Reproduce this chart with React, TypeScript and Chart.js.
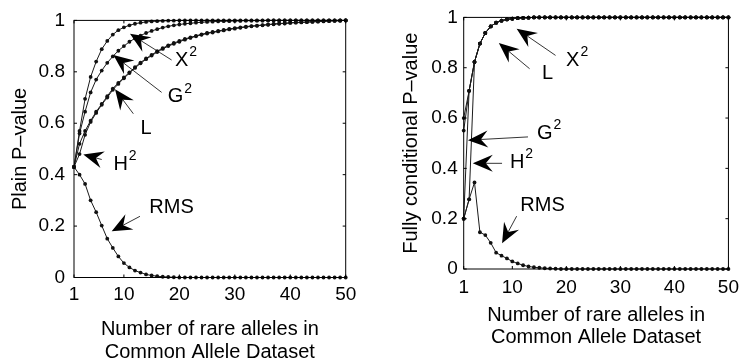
import React, { useEffect, useRef } from 'react';
import { Chart, registerables } from 'chart.js';

Chart.register(...registerables);

// ---------------- data ----------------
const X_VALUES = [
  1, 2, 3, 4, 5, 6, 7, 8, 9, 10, 11, 12, 13, 14, 15, 16, 17, 18, 19, 20, 21, 22, 23, 24, 25,
  26, 27, 28, 29, 30, 31, 32, 33, 34, 35, 36, 37, 38, 39, 40, 41, 42, 43, 44, 45, 46, 47, 48, 49, 50,
];
const X_TICKS = [1, 10, 20, 30, 40, 50];
const Y_TICKS = [0, 0.2, 0.4, 0.6, 0.8, 1];

// Left panel: plain P-value
const PLAIN_X2 = [
  0.43, 0.57, 0.695, 0.78, 0.84, 0.888, 0.92, 0.945, 0.962, 0.973,
  0.981, 0.987, 0.991, 0.994, 0.996, 0.997, 0.998, 0.999, 0.999, 1,
  1, 1, 1, 1, 1, 1, 1, 1, 1, 1,
  1, 1, 1, 1, 1, 1, 1, 1, 1, 1,
  1, 1, 1, 1, 1, 1, 1, 1, 1, 1,
];
const PLAIN_G2 = [
  0.43, 0.56, 0.645, 0.72, 0.77, 0.805, 0.835, 0.86, 0.882, 0.9,
  0.917, 0.93, 0.941, 0.951, 0.959, 0.966, 0.972, 0.977, 0.981, 0.984,
  0.987, 0.989, 0.991, 0.993, 0.994, 0.995, 0.996, 0.997, 0.997, 0.998,
  0.998, 0.999, 0.999, 0.999, 0.999, 1, 1, 1, 1, 1,
  1, 1, 1, 1, 1, 1, 1, 1, 1, 1,
];
const PLAIN_L = [
  0.43, 0.52, 0.57, 0.61, 0.645, 0.675, 0.705, 0.735, 0.757, 0.778,
  0.798, 0.818, 0.836, 0.852, 0.866, 0.88, 0.892, 0.903, 0.912, 0.92,
  0.928, 0.934, 0.94, 0.946, 0.951, 0.955, 0.959, 0.963, 0.967, 0.97,
  0.973, 0.976, 0.978, 0.98, 0.982, 0.984, 0.986, 0.988, 0.989, 0.991,
  0.992, 0.993, 0.994, 0.995, 0.996, 0.997, 0.998, 0.999, 0.999, 1,
];
const PLAIN_H2 = [
  0.43, 0.48, 0.555, 0.605, 0.64, 0.672, 0.7, 0.73, 0.753, 0.775,
  0.795, 0.815, 0.833, 0.849, 0.863, 0.877, 0.889, 0.9, 0.909, 0.917,
  0.925, 0.932, 0.938, 0.944, 0.949, 0.953, 0.957, 0.961, 0.965, 0.968,
  0.971, 0.974, 0.977, 0.979, 0.981, 0.983, 0.985, 0.987, 0.988, 0.99,
  0.991, 0.992, 0.993, 0.994, 0.995, 0.996, 0.997, 0.998, 0.999, 1,
];
const PLAIN_RMS = [
  0.43, 0.4, 0.364, 0.3, 0.254, 0.202, 0.151, 0.115, 0.082, 0.056,
  0.039, 0.027, 0.019, 0.012, 0.008, 0.005, 0.003, 0.002, 0.001, 0,
  0, 0, 0, 0, 0, 0, 0, 0, 0, 0,
  0, 0, 0, 0, 0, 0, 0, 0, 0, 0,
  0, 0, 0, 0, 0, 0, 0, 0, 0, 0,
];

// Right panel: fully conditional P-value
const COND_X2 = [
  0.55, 0.708, 0.823, 0.896, 0.938, 0.964, 0.979, 0.987, 0.992, 0.995,
  0.997, 0.998, 0.999, 1, 1, 1, 1, 1, 1, 1,
  1, 1, 1, 1, 1, 1, 1, 1, 1, 1,
  1, 1, 1, 1, 1, 1, 1, 1, 1, 1,
  1, 1, 1, 1, 1, 1, 1, 1, 1, 1,
];
const COND_L = [
  0.6, 0.708, 0.823, 0.896, 0.938, 0.964, 0.979, 0.987, 0.992, 0.995,
  0.997, 0.998, 0.999, 1, 1, 1, 1, 1, 1, 1,
  1, 1, 1, 1, 1, 1, 1, 1, 1, 1,
  1, 1, 1, 1, 1, 1, 1, 1, 1, 1,
  1, 1, 1, 1, 1, 1, 1, 1, 1, 1,
];
const COND_G2 = [
  0.2, 0.708, 0.823, 0.896, 0.938, 0.964, 0.979, 0.987, 0.992, 0.995,
  0.997, 0.998, 0.999, 1, 1, 1, 1, 1, 1, 1,
  1, 1, 1, 1, 1, 1, 1, 1, 1, 1,
  1, 1, 1, 1, 1, 1, 1, 1, 1, 1,
  1, 1, 1, 1, 1, 1, 1, 1, 1, 1,
];
const COND_H2 = [
  0.2, 0.277, 0.823, 0.896, 0.938, 0.964, 0.979, 0.987, 0.992, 0.995,
  0.997, 0.998, 0.999, 1, 1, 1, 1, 1, 1, 1,
  1, 1, 1, 1, 1, 1, 1, 1, 1, 1,
  1, 1, 1, 1, 1, 1, 1, 1, 1, 1,
  1, 1, 1, 1, 1, 1, 1, 1, 1, 1,
];
const COND_RMS = [
  0.2, 0.277, 0.344, 0.146, 0.135, 0.104, 0.065, 0.053, 0.042, 0.03,
  0.022, 0.015, 0.01, 0.007, 0.005, 0.003, 0.002, 0.001, 0, 0,
  0, 0, 0, 0, 0, 0, 0, 0, 0, 0,
  0, 0, 0, 0, 0, 0, 0, 0, 0, 0,
  0, 0, 0, 0, 0, 0, 0, 0, 0, 0,
];

const X_TITLE = ['Number of rare alleles in', 'Common Allele Dataset'];

// Annotations (data coordinates: [x, p-value])
type Note = { label: string; sup: string; text: [number, number]; tail: [number, number]; tip: [number, number] };

const PLAIN_NOTES: Note[] = [
  { label: 'X', sup: '2', text: [21.2, 0.845], tail: [18.6, 0.846], tip: [11.1, 0.948] },
  { label: 'G', sup: '2', text: [20.1, 0.703], tail: [16.8, 0.72], tip: [8.1, 0.865] },
  { label: 'L', sup: '', text: [14.0, 0.58], tail: [11.7, 0.637], tip: [8.4, 0.732] },
  { label: 'H', sup: '2', text: [10.2, 0.441], tail: [6.0, 0.459], tip: [2.68, 0.478] },
  { label: 'RMS', sup: '', text: [18.6, 0.274], tail: [12.9, 0.238], tip: [7.8, 0.18] },
];
const COND_NOTES: Note[] = [
  { label: 'X', sup: '2', text: [22.0, 0.829], tail: [18.0, 0.849], tip: [10.8, 0.955] },
  { label: 'L', sup: '', text: [16.5, 0.777], tail: [13.2, 0.796], tip: [7.5, 0.898] },
  { label: 'G', sup: '2', text: [16.8, 0.54], tail: [12.9, 0.525], tip: [1.78, 0.512] },
  { label: 'H', sup: '2', text: [11.7, 0.425], tail: [8.1, 0.42], tip: [2.68, 0.42] },
  { label: 'RMS', sup: '', text: [15.6, 0.254], tail: [10.8, 0.21], tip: [8.1, 0.102] },
];

// ---------------- rendering ----------------
const FONT = "'Liberation Sans', Arial, Helvetica, sans-serif";

type PanelCfg = {
  yTitle: string;
  series: { name: string; values: number[] }[];
  notes: Note[];
  pad: { top: number; right: number; left: number; bottom: number };
  yAxisWidth: number;
  xAxisHeight: number;
  yTickPad: number;
  xTickPad: number;
  yTitlePad: number;
  xTitlePadBottom: number;
  xTitleLineHeight: number;
};

function drawArrow(ctx: CanvasRenderingContext2D, tx: number, ty: number, sx: number, sy: number) {
  const dx = tx - sx;
  const dy = ty - sy;
  const len = Math.hypot(dx, dy) || 1;
  const ux = dx / len;
  const uy = dy / len;
  const px = -uy;
  const py = ux;
  const HL = 20;
  const HW = 8.5;
  const NOTCH = 13;
  ctx.beginPath();
  ctx.moveTo(sx, sy);
  ctx.lineTo(tx - ux * NOTCH, ty - uy * NOTCH);
  ctx.stroke();
  ctx.beginPath();
  ctx.moveTo(tx, ty);
  ctx.lineTo(tx - ux * HL + px * HW, ty - uy * HL + py * HW);
  ctx.lineTo(tx - ux * NOTCH, ty - uy * NOTCH);
  ctx.lineTo(tx - ux * HL - px * HW, ty - uy * HL - py * HW);
  ctx.closePath();
  ctx.fill();
}

function makeDecor(notes: Note[]) {
  return {
    id: 'decor',
    afterDraw(chart: any) {
      const ctx: CanvasRenderingContext2D = chart.ctx;
      const { left, right, top, bottom } = chart.chartArea;
      const xs = chart.scales.x;
      const ys = chart.scales.y;
      ctx.save();
      ctx.strokeStyle = '#000';
      ctx.fillStyle = '#000';
      ctx.lineWidth = 1;
      // box
      ctx.strokeRect(left, top, right - left, bottom - top);
      // inner ticks, mirrored
      const TL = 3;
      ctx.beginPath();
      X_TICKS.forEach((v) => {
        const px = xs.getPixelForValue(v);
        ctx.moveTo(px, bottom);
        ctx.lineTo(px, bottom - TL);
        ctx.moveTo(px, top);
        ctx.lineTo(px, top + TL);
      });
      Y_TICKS.forEach((v) => {
        const py = ys.getPixelForValue(v);
        ctx.moveTo(left, py);
        ctx.lineTo(left + TL, py);
        ctx.moveTo(right, py);
        ctx.lineTo(right - TL, py);
      });
      ctx.stroke();
      // annotations
      ctx.lineWidth = 0.8;
      notes.forEach((n) => {
        const tx = xs.getPixelForValue(n.tip[0]);
        const ty = ys.getPixelForValue(n.tip[1]);
        const sx = xs.getPixelForValue(n.tail[0]);
        const sy = ys.getPixelForValue(n.tail[1]);
        drawArrow(ctx, tx, ty, sx, sy);
        const cx = xs.getPixelForValue(n.text[0]);
        const cy = ys.getPixelForValue(n.text[1]);
        ctx.font = `20px ${FONT}`;
        const w1 = ctx.measureText(n.label).width;
        ctx.font = `14px ${FONT}`;
        const w2 = n.sup ? ctx.measureText(n.sup).width + 1 : 0;
        const x0 = cx - (w1 + w2) / 2;
        ctx.textAlign = 'left';
        ctx.textBaseline = 'middle';
        ctx.font = `20px ${FONT}`;
        ctx.fillText(n.label, x0, cy);
        if (n.sup) {
          ctx.font = `14px ${FONT}`;
          ctx.fillText(n.sup, x0 + w1 + 1, cy - 8);
        }
      });
      ctx.restore();
    },
  };
}

function Panel({ cfg }: { cfg: PanelCfg }) {
  const ref = useRef<HTMLCanvasElement | null>(null);
  useEffect(() => {
    if (!ref.current) return;
    const datasets = cfg.series.map((s) => ({
      label: s.name,
      data: X_VALUES.map((x, i) => ({ x, y: s.values[i] })),
      borderColor: '#1a1a1a',
      borderWidth: 1,
      pointRadius: 1.9,
      pointBackgroundColor: '#111',
      pointBorderWidth: 0,
      pointHoverRadius: 1.9,
      tension: 0,
      fill: false,
      clip: false as any,
    }));
    const tickFont = { family: FONT, size: 19 };
    const chart = new Chart(ref.current, {
      type: 'line',
      data: { datasets },
      options: {
        animation: false,
        responsive: false,
        maintainAspectRatio: false,
        events: [],
        layout: { padding: cfg.pad },
        plugins: { legend: { display: false }, tooltip: { enabled: false } },
        scales: {
          x: {
            type: 'linear',
            min: 1,
            max: 50,
            afterBuildTicks: (s: any) => {
              s.ticks = X_TICKS.map((v) => ({ value: v }));
            },
            afterFit: (s: any) => {
              s.height = cfg.xAxisHeight;
            },
            grid: { display: false, drawTicks: false },
            border: { display: false },
            ticks: {
              font: tickFont,
              color: '#000',
              padding: cfg.xTickPad,
              maxRotation: 0,
              autoSkip: false,
              callback: (v: any) => String(v),
            },
            title: {
              display: true,
              text: X_TITLE,
              color: '#000',
              font: { family: FONT, size: 20, lineHeight: cfg.xTitleLineHeight },
              padding: { top: 0, bottom: cfg.xTitlePadBottom },
            },
          },
          y: {
            type: 'linear',
            min: 0,
            max: 1,
            afterBuildTicks: (s: any) => {
              s.ticks = Y_TICKS.map((v) => ({ value: v }));
            },
            afterFit: (s: any) => {
              s.width = cfg.yAxisWidth;
            },
            grid: { display: false, drawTicks: false },
            border: { display: false },
            ticks: {
              font: tickFont,
              color: '#000',
              padding: cfg.yTickPad,
              autoSkip: false,
              callback: (v: any) => String(v),
            },
            title: {
              display: true,
              text: cfg.yTitle,
              color: '#000',
              font: { family: FONT, size: 20, lineHeight: 1.2 },
              padding: { top: cfg.yTitlePad, bottom: 0 },
            },
          },
        },
      },
      plugins: [makeDecor(cfg.notes)],
    } as any);
    return () => chart.destroy();
  }, [cfg]);
  return (
    <div style={{ width: 373, height: 364, position: 'relative' }}>
      <canvas ref={ref} width={373} height={364} style={{ width: 373, height: 364, display: 'block' }} />
    </div>
  );
}

const LEFT_CFG: PanelCfg = {
  yTitle: 'Plain P\u2013value',
  series: [
    { name: 'X2', values: PLAIN_X2 },
    { name: 'G2', values: PLAIN_G2 },
    { name: 'L', values: PLAIN_L },
    { name: 'H2', values: PLAIN_H2 },
    { name: 'RMS', values: PLAIN_RMS },
  ],
  notes: PLAIN_NOTES,
  pad: { top: 14.5, right: 27.3, left: 0, bottom: 0 },
  yAxisWidth: 74,
  xAxisHeight: 86.5,
  yTickPad: 9,
  xTickPad: 5.5,
  yTitlePad: 8,
  xTitlePadBottom: 0,
  xTitleLineHeight: 1.15,
};

const RIGHT_CFG: PanelCfg = {
  yTitle: 'Fully conditional P\u2013value',
  series: [
    { name: 'X2', values: COND_X2 },
    { name: 'L', values: COND_L },
    { name: 'G2', values: COND_G2 },
    { name: 'H2', values: COND_H2 },
    { name: 'RMS', values: COND_RMS },
  ],
  notes: COND_NOTES,
  pad: { top: 17, right: 11.3, left: 0, bottom: 0 },
  yAxisWidth: 90.7,
  xAxisHeight: 95,
  yTickPad: 6,
  xTickPad: 7,
  yTitlePad: 26.5,
  xTitlePadBottom: 16,
  xTitleLineHeight: 1.1,
};

export default function App() {
  return (
    <div
      style={{
        position: 'absolute',
        left: 0,
        top: 0,
        width: 746,
        height: 364,
        display: 'flex',
        background: '#fff',
        overflow: 'hidden',
      }}
    >
      <Panel cfg={LEFT_CFG} />
      <Panel cfg={RIGHT_CFG} />
    </div>
  );
}
